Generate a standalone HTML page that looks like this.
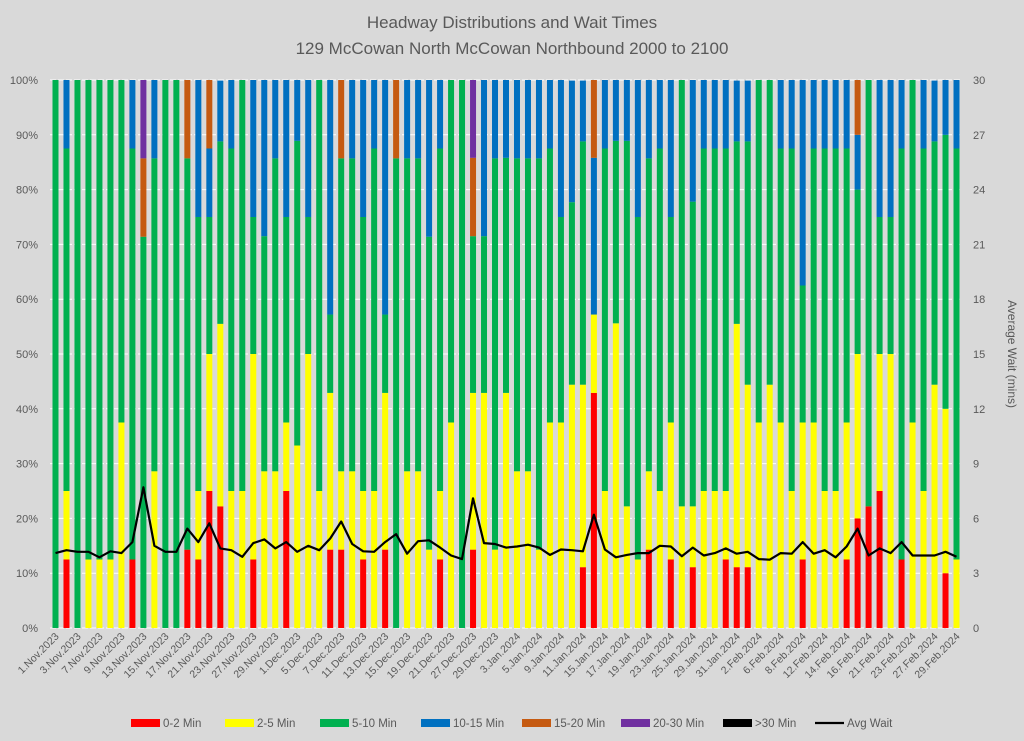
<!DOCTYPE html>
<html><head><meta charset="utf-8"><style>
html,body{margin:0;padding:0;background:#d9d9d9;}
svg{display:block;font-family:"Liberation Sans",sans-serif;}
</style></head><body>
<svg id="chart" width="1024" height="741" viewBox="0 0 1024 741" xmlns="http://www.w3.org/2000/svg">
<rect x="0" y="0" width="1024" height="741" fill="#d9d9d9"/>
<text x="512" y="28" text-anchor="middle" font-size="17" fill="#595959">Headway Distributions and Wait Times</text>
<text x="512" y="54" text-anchor="middle" font-size="17" fill="#595959">129 McCowan North  McCowan Northbound 2000 to 2100</text>
<g id="grid"></g>
<g id="bars"></g>
<g id="line"></g>
<g id="axes"></g>
<text transform="translate(1008,354) rotate(90)" text-anchor="middle" font-size="12" fill="#595959">Average Wait (mins)</text>
<g id="legend"></g>
</svg>
<script>
const redVals=[0,12.5,0,0,0,0,0,12.5,0,0, 0,0,14.3,12.5,25,22.2,0,0,12.5,0, 0,25,0,0,0,14.3,14.3,0,12.5,0, 14.3,0,0,0,0,12.5,0,0,14.3,0, 0,0,0,0,0,0,0,0,11.1,42.9, 0,0,0,0,14.3,0,12.5,0,11.1,0, 0,12.5,11.1,11.1,0,0,0,0,12.5,0, 0,0,12.5,20,22.2,25,0,12.5,0,0, 0,10,0];
const yellowVals=[0,12.5,0,12.5,12.5,12.5,37.5,0,0,28.6, 0,0,0,12.5,25,33.3,25,25,37.5,28.6, 28.6,12.5,33.3,50,25,28.6,14.3,28.6,12.5,25, 28.6,0,28.6,28.6,14.3,12.5,37.5,0,28.6,42.9, 14.3,42.9,28.6,28.6,14.3,37.5,37.5,44.4,33.3,14.3, 25,55.6,22.2,12.5,14.3,25,25,22.2,11.1,25, 25,12.5,44.4,33.3,37.5,44.4,37.5,25,25,37.5, 25,25,25,30,0,25,50,0,37.5,25, 44.4,30,12.5];
const greenVals=[100,62.5,100,87.5,87.5,87.5,62.5,75,71.4,57.1, 100,100,71.4,50,25,33.3,62.5,75,25,42.9, 57.1,37.5,55.6,25,75,14.3,57.1,57.1,50,62.5, 14.3,85.7,57.1,57.1,57.1,62.5,62.5,100,28.6,28.6, 71.4,42.9,57.1,57.1,71.4,50,37.5,33.3,44.4,0, 62.5,33.3,66.7,62.5,57.1,62.5,37.5,77.8,55.6,62.5, 62.5,62.5,33.3,44.4,62.5,55.6,50,62.5,25,50, 62.5,62.5,50,30,77.8,25,25,75,62.5,62.5, 44.4,50,75];
const blueVals=[0,12.5,0,0,0,0,0,12.5,0,14.3, 0,0,0,25,12.5,11.1,12.5,0,25,28.6, 14.3,25,11.1,25,0,42.9,0,14.3,25,12.5, 42.9,0,14.3,14.3,28.6,12.5,0,0,0,28.6, 14.3,14.3,14.3,14.3,14.3,12.5,25,22.2,11.1,28.6, 12.5,11.1,11.1,25,14.3,12.5,25,0,22.2,12.5, 12.5,12.5,11.1,11.1,0,0,12.5,12.5,37.5,12.5, 12.5,12.5,12.5,10,0,25,25,12.5,0,12.5, 11.1,10,12.5];
const orangeVals=[0,0,0,0,0,0,0,0,14.3,0, 0,0,14.3,0,12.5,0,0,0,0,0, 0,0,0,0,0,0,14.3,0,0,0, 0,14.3,0,0,0,0,0,0,14.3,0, 0,0,0,0,0,0,0,0,0,14.3, 0,0,0,0,0,0,0,0,0,0, 0,0,0,0,0,0,0,0,0,0, 0,0,0,10,0,0,0,0,0,0, 0,0,0];
const purpleVals=[0,0,0,0,0,0,0,0,14.3,0, 0,0,0,0,0,0,0,0,0,0, 0,0,0,0,0,0,0,0,0,0, 0,0,0,0,0,0,0,0,14.3,0, 0,0,0,0,0,0,0,0,0,0, 0,0,0,0,0,0,0,0,0,0, 0,0,0,0,0,0,0,0,0,0, 0,0,0,0,0,0,0,0,0,0, 0,0,0];
const over30Vals=new Array(83).fill(0);
const avgWait=[4.1,4.26,4.17,4.17,3.87,4.2,4.1,4.7,7.7,4.5, 4.17,4.17,5.44,4.7,5.73,4.36,4.26,3.9,4.65,4.85, 4.36,4.7,4.17,4.5,4.26,4.9,5.83,4.6,4.2,4.17, 4.7,5.14,4.07,4.75,4.8,4.4,3.97,3.77,7.1,4.65, 4.6,4.4,4.46,4.56,4.4,4.0,4.3,4.26,4.2,6.2, 4.3,3.87,4.0,4.1,4.1,4.5,4.46,3.93,4.4,3.97, 4.1,4.36,4.07,4.17,3.77,3.74,4.1,4.07,4.7,4.07, 4.26,3.87,4.46,5.44,3.97,4.36,4.1,4.7,3.97,3.97, 3.97,4.17,3.9];
const months=["Nov","Dec","Jan","Feb"];
const nov=[1,2,3,6,7,8,9,10,13,14,15,16,17,20,21,22,23,24,27,28,29,30];
const dec=[1,4,5,6,7,8,11,12,13,14,15,18,19,20,21,22,27,28,29];
const jan=[2,3,4,5,8,9,10,11,12,15,16,17,18,19,22,23,24,25,26,29,30,31];
const feb=[1,2,5,6,7,8,9,12,13,14,15,16,20,21,22,23,26,27,28,29];
const leftTicks=["0%","10%","20%","30%","40%","50%","60%","70%","80%","90%","100%"];
const rightTicks=["0","3","6","9","12","15","18","21","24","27","30"];

const categories=[];
nov.forEach(d=>categories.push(d+".Nov.2023"));
dec.forEach(d=>categories.push(d+".Dec.2023"));
jan.forEach(d=>categories.push(d+".Jan.2024"));
feb.forEach(d=>categories.push(d+".Feb.2024"));

const NS="http://www.w3.org/2000/svg";
const L=50,R=962,T=80,B=628;
const N=categories.length;
const xc=i=>L+(i+0.5)*(R-L)/N;
const yPct=v=>B-(v/100)*(B-T);
const yWait=v=>B-(v/30)*(B-T);
function mk(tag,attrs,parent){const e=document.createElementNS(NS,tag);for(const k in attrs)e.setAttribute(k,attrs[k]);parent.appendChild(e);return e;}

const grid=document.getElementById('grid');
const axes=document.getElementById('axes');
leftTicks.forEach((t,i)=>{
  const y=yPct(i*10);
  const ln=mk('line',{x1:L,x2:R,y1:y,y2:y,stroke:'#ffffff','stroke-width':1,'stroke-dasharray':'6,2'},grid);
  
  
  const tx=mk('text',{x:38,y:y+4,'text-anchor':'end','font-size':11,fill:'#595959'},axes);
  tx.textContent=t;
  
  
});
rightTicks.forEach((t,i)=>{
  const y=yWait(i*3);
  const tx=mk('text',{x:973,y:y+4,'text-anchor':'start','font-size':11,fill:'#595959'},axes);
  tx.textContent=t;
  
  
});

const series=[
 {vals:redVals,color:'#ff0000',name:'0-2 Min'},
 {vals:yellowVals,color:'#ffff00',name:'2-5 Min'},
 {vals:greenVals,color:'#00b050',name:'5-10 Min'},
 {vals:blueVals,color:'#0070c0',name:'10-15 Min'},
 {vals:orangeVals,color:'#c55a11',name:'15-20 Min'},
 {vals:purpleVals,color:'#7030a0',name:'20-30 Min'},
 {vals:over30Vals,color:'#000000',name:'>30 Min'}
];
const bars=document.getElementById('bars');
const bw=6;
for(let i=0;i<N;i++){
  let cum=0;
  series.forEach(s=>{
    const v=s.vals[i];
    if(v>0){
      const y0=yPct(cum),y1=yPct(Math.min(cum+v,100));
      const r=mk('rect',{x:xc(i)-bw/2,y:y1,width:bw,height:Math.max(0,y0-y1),fill:s.color},bars);
      
      
    }
    cum+=v;
  });
  if(i%2===0){
    const tx=mk('text',{transform:`translate(${xc(i)+4},${B+9}) rotate(-45)`,'text-anchor':'end','font-size':10.5,fill:'#595959'},axes);
    tx.textContent=categories[i];
    
    
  }
}
const lineG=document.getElementById('line');
const pts=avgWait.map((v,i)=>xc(i).toFixed(1)+','+yWait(v).toFixed(1)).join(' ');
const pl=mk('polyline',{points:pts,fill:'none',stroke:'#000','stroke-width':2.2,'stroke-linejoin':'round'},lineG);



const legend=document.getElementById('legend');
const legX=[131,225,320,421,522,621,723];
series.forEach((s,k)=>{
  const r=mk('rect',{x:legX[k],y:719,width:29,height:8,fill:s.color},legend);
  
  
  const t=mk('text',{x:legX[k]+32,y:727,'font-size':11.5,fill:'#595959'},legend);
  t.textContent=s.name;
  
  
});
const ll=mk('line',{x1:815,x2:844,y1:723,y2:723,stroke:'#000','stroke-width':2.2},legend);


const lt=mk('text',{x:847,y:727,'font-size':11.5,fill:'#595959'},legend);
lt.textContent='Avg Wait';


</script>
</body></html>
